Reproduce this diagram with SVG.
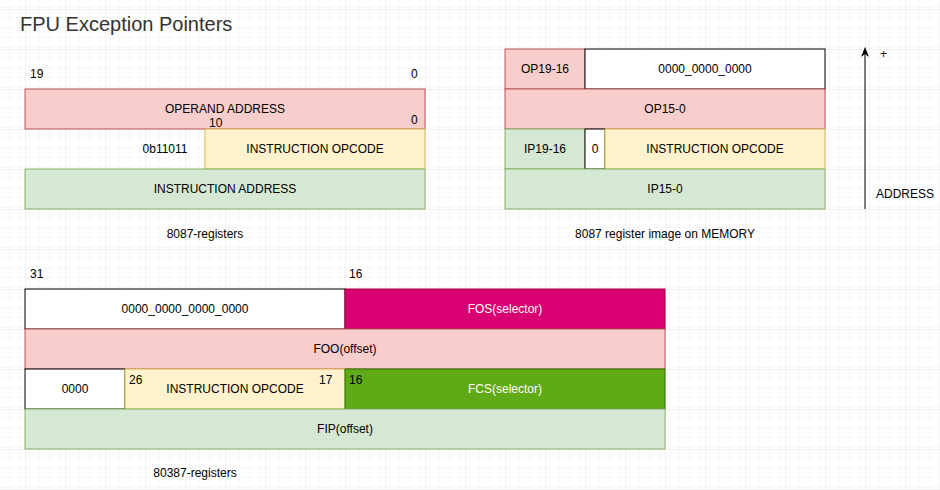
<svg xmlns="http://www.w3.org/2000/svg" width="940" height="490" viewBox="0 0 940 490">
<defs>
<pattern id="minor" width="10" height="10" patternUnits="userSpaceOnUse" x="5" y="9"><path d="M10 0V10M0 10H10" fill="none" stroke="#f0f0f0" stroke-width="1"/></pattern>
<pattern id="major" width="40" height="40" patternUnits="userSpaceOnUse" x="25" y="9"><rect width="40" height="40" fill="url(#minor)"/><path d="M0 0V40M0 0H40" fill="none" stroke="#e4e4e4" stroke-width="1"/></pattern>
<marker id="arr" markerWidth="10" markerHeight="10" refX="5" refY="5" orient="auto" markerUnits="userSpaceOnUse"><path d="M0 1L10 5L0 9L3 5Z" fill="#000"/></marker>
</defs>
<style>
text{font-family:"Liberation Sans",Arial,sans-serif;font-size:12px;fill:#000}
.c{text-anchor:middle;dominant-baseline:central}
.w{fill:#fff}
.red{fill:#f8cecc;stroke:#b85450}
.yel{fill:#fff2cc;stroke:#d6b656}
.grn{fill:#d5e8d4;stroke:#82b366}
.wht{fill:#fff;stroke:#000}
</style>
<rect width="940" height="490" fill="#fff"/>
<rect width="940" height="490" fill="url(#major)"/>
<text x="20" y="31" style="font-size:20px;fill:#333">FPU Exception Pointers</text>

<g id="regs8087">
<rect class="red" x="25" y="89" width="400" height="40"/><text class="c" x="225" y="109">OPERAND ADDRESS</text>
<text class="c" x="165" y="149">0b11011</text>
<rect class="yel" x="205" y="129" width="220" height="40"/><text class="c" x="315" y="149">INSTRUCTION OPCODE</text>
<rect class="grn" x="25" y="169" width="400" height="40"/><text class="c" x="225" y="189">INSTRUCTION ADDRESS</text>
<text x="30" y="78">19</text><text x="411" y="78">0</text>
<text x="209" y="127">10</text><text x="411" y="124">0</text>
<text class="c" x="205" y="234">8087-registers</text>
</g>

<g id="mem8087">
<rect class="red" x="505" y="49" width="80" height="40"/><text class="c" x="545" y="69">OP19-16</text>
<rect class="wht" x="585" y="49" width="240" height="40"/><text class="c" x="705" y="69">0000_0000_0000</text>
<rect class="red" x="505" y="89" width="320" height="40"/><text class="c" x="665" y="109">OP15-0</text>
<rect class="grn" x="505" y="129" width="80" height="40"/><text class="c" x="545" y="149">IP19-16</text>
<rect class="wht" x="585" y="129" width="20" height="40"/><text class="c" x="595" y="149">0</text>
<rect class="yel" x="605" y="129" width="220" height="40"/><text class="c" x="715" y="149">INSTRUCTION OPCODE</text>
<rect class="grn" x="505" y="169" width="320" height="40"/><text class="c" x="665" y="189">IP15-0</text>
<text class="c" x="665" y="234">8087 register image on MEMORY</text>
</g>

<g id="connectors">
<line x1="865" y1="209" x2="865" y2="52" stroke="#000" marker-end="url(#arr)"/>
</g>
<g id="address">
<text x="880" y="58">+</text>
<text x="876" y="198">ADDRESS</text>
</g>

<g id="regs80387">
<rect class="wht" x="25" y="289" width="320" height="40"/><text class="c" x="185" y="309">0000_0000_0000_0000</text>
<rect x="345" y="289" width="320" height="40" fill="#d80073" stroke="#a50040"/><text class="c w" x="505" y="309">FOS(selector)</text>
<rect class="red" x="25" y="329" width="640" height="40"/><text class="c" x="345" y="349">FOO(offset)</text>
<rect class="wht" x="25" y="369" width="100" height="40"/><text class="c" x="75" y="389">0000</text>
<rect class="yel" x="125" y="369" width="220" height="40"/><text class="c" x="235" y="389">INSTRUCTION OPCODE</text>
<rect x="345" y="369" width="320" height="40" fill="#60a917" stroke="#2d7600"/><text class="c w" x="505" y="389">FCS(selector)</text>
<rect class="grn" x="25" y="409" width="640" height="40"/><text class="c" x="345" y="429">FIP(offset)</text>
<text x="30" y="278">31</text><text x="349" y="278">16</text>
<text x="129" y="384">26</text><text x="319" y="384">17</text><text x="349" y="384">16</text>
<text class="c" x="195" y="473">80387-registers</text>
</g>
</svg>
